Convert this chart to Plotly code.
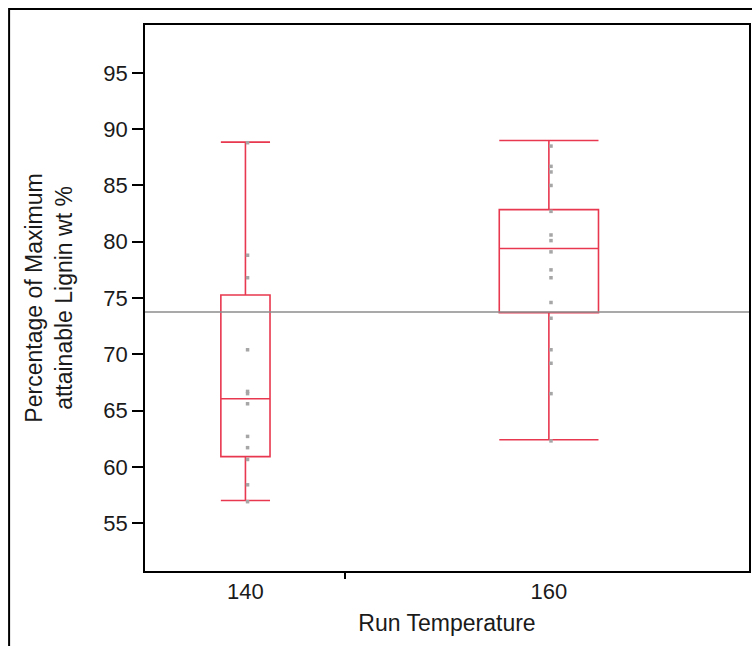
import plotly.graph_objects as go

# ---- data ----
categories = ["140", "160"]
q1 = [60.9, 73.7]
medians = [66.05, 79.4]
q3 = [75.27, 82.85]
lower_whisker = [57.0, 62.4]
upper_whisker = [88.85, 89.0]

points_140 = [88.8, 78.8, 76.8, 70.4, 66.7, 66.5, 65.6, 62.7, 61.7, 60.65, 58.4, 56.9]
points_160 = [88.5, 86.7, 86.2, 85.0, 82.7, 80.6, 80.1, 79.1, 77.5, 76.8, 74.6, 73.2,
              70.4, 69.2, 66.5, 62.3]
reference_value = 73.76

y_ticks = [55, 60, 65, 70, 75, 80, 85, 90, 95]

# ---- style ----
RED = "#E8384F"
GRAY_PT = "#A6A6A6"
FONT = "Arial, Liberation Sans, sans-serif"
FS_TICK = 22
FS_TITLE = 23
box_widths = [0.162, 0.327]
pt_offset = 0.007

fig = go.Figure()

for i, cat in enumerate(categories):
    fig.add_trace(go.Box(
        x=[i], q1=[q1[i]], median=[medians[i]], q3=[q3[i]],
        lowerfence=[lower_whisker[i]], upperfence=[upper_whisker[i]],
        width=box_widths[i], whiskerwidth=1,
        fillcolor="rgba(0,0,0,0)",
        line=dict(color=RED, width=1.6),
        boxpoints=False, name=cat, showlegend=False, hoverinfo="y",
    ))

all_pts = [points_140, points_160]
for i, pts in enumerate(all_pts):
    fig.add_trace(go.Scatter(
        x=[i + pt_offset] * len(pts), y=pts, mode="markers",
        marker=dict(symbol="square", size=3.5, color=GRAY_PT, line=dict(width=0)),
        showlegend=False, hoverinfo="y",
    ))

# reference line across the whole plot
fig.add_shape(type="line", xref="paper", x0=0, x1=1, yref="y",
              y0=reference_value, y1=reference_value,
              line=dict(color="#8C8C8C", width=1.6), layer="above")

# outer frame
fig.add_shape(type="rect", xref="paper", yref="paper",
              x0=-0.225, x1=1.05, y0=-0.3, y1=1.0293,
              line=dict(color="black", width=2), layer="below")

xr = [-0.331, 1.6595]
fig.update_layout(
    width=752, height=646,
    margin=dict(l=145, r=1.3, t=25, b=75),
    paper_bgcolor="white", plot_bgcolor="white",
    font=dict(family=FONT, size=FS_TICK, color="#1a1a1a"),
    xaxis=dict(
        range=xr, tickvals=[0, 1], ticktext=categories, ticks="",
        showgrid=False, zeroline=False,
        showline=True, linecolor="black", linewidth=1.5, mirror=True,
        title=dict(text="Run Temperature", standoff=12, font=dict(size=FS_TITLE)),
        tickfont=dict(size=FS_TICK),
    ),
    xaxis2=dict(
        range=xr, overlaying="x", side="bottom", tickvals=[0.3296],
        ticks="outside", ticklen=7, tickwidth=1.5, tickcolor="black",
        showticklabels=False, showgrid=False, zeroline=False, showline=False,
    ),
    yaxis=dict(
        range=[50.74, 99.26], tickvals=y_ticks, ticks="outside", ticklen=11,
        tickwidth=1.5, tickcolor="black",
        showgrid=False, zeroline=False,
        showline=True, linecolor="black", linewidth=1.5, mirror=True,
        title=dict(text="Percentage of Maximum<br>attainable Lignin wt %",
                   standoff=24, font=dict(size=FS_TITLE)),
        tickfont=dict(size=FS_TICK),
    ),
)

# dummy trace to activate xaxis2
fig.add_trace(go.Scatter(x=[0], y=[None], xaxis="x2", showlegend=False,
                         hoverinfo="skip", mode="markers"))

fig.write_html("out.html")
